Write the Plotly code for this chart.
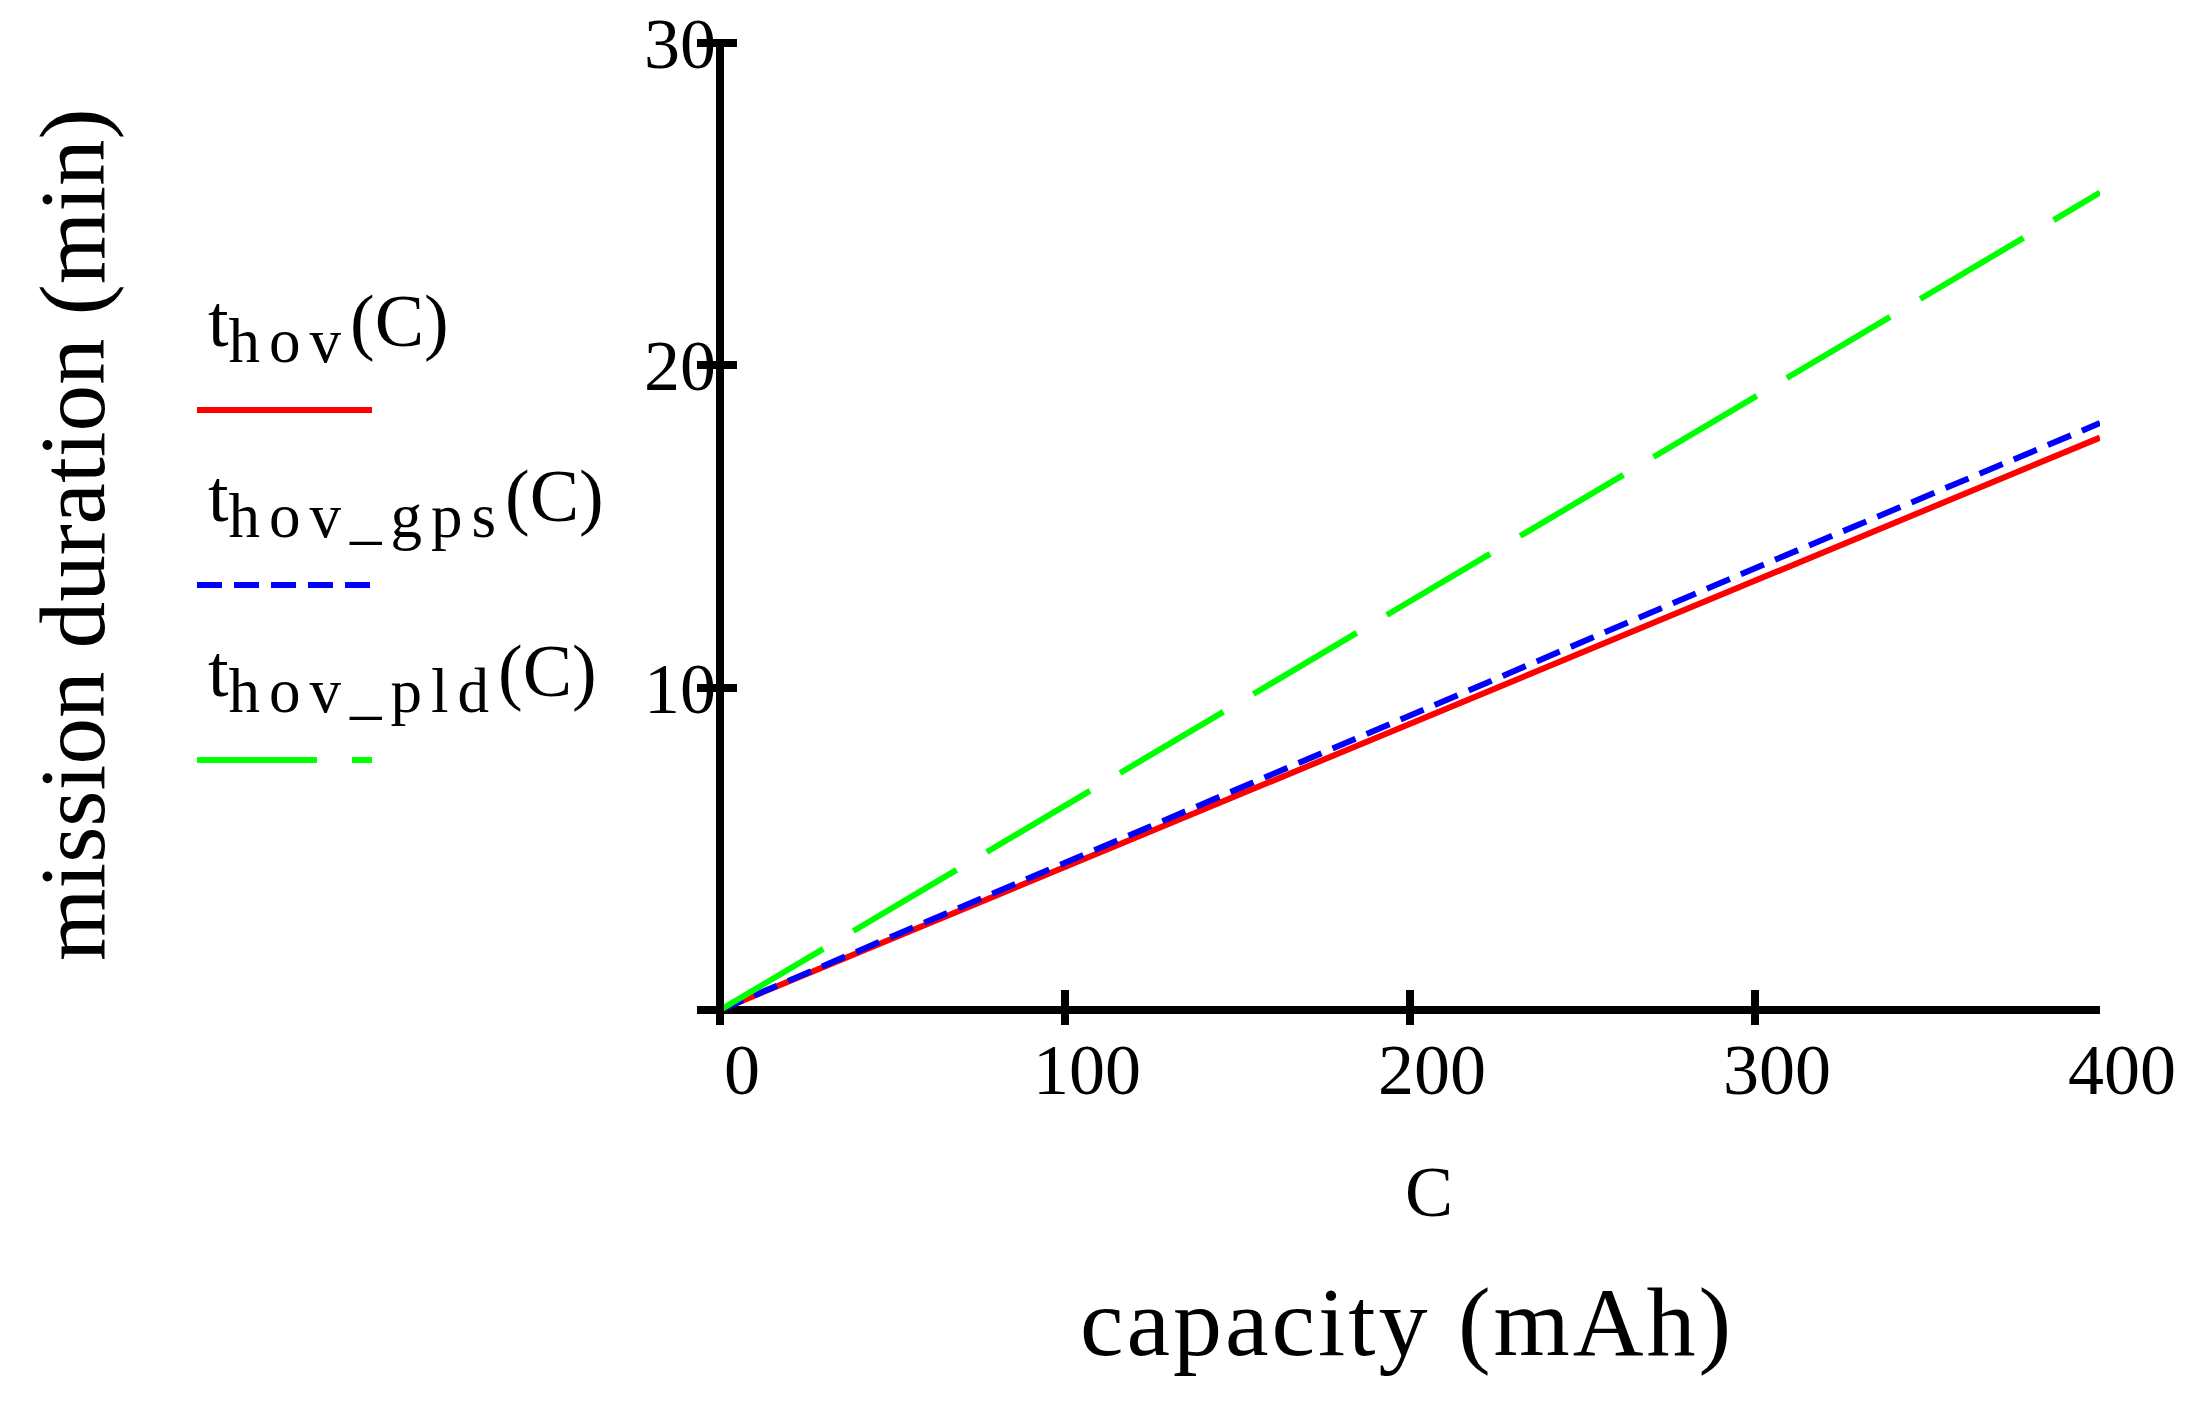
import plotly.graph_objects as go

# values (capacity in mAh, hover time in min)
capacity = [0, 100, 200, 300, 400]
t_hov = [0, 4.44, 8.9, 13.35, 17.75]
t_hov_gps = [0, 4.56, 9.15, 13.7, 18.2]
t_hov_pld = [0, 6.34, 12.7, 19.0, 25.35]

x_ticks = [0, 100, 200, 300, 400]
y_ticks = [10, 20, 30]

FONT = "Liberation Serif"
W, H = 2205, 1405
L, R, T, B = 689, 113, 33, 388
PAGE = 8  # body margin of the html page


def px(x, y):
    # screenshot pixels -> paper coords, for the hand-made legend and titles
    return ((x - PAGE - L) / (W - L - R),
            (H - B - (y - PAGE)) / (H - T - B))


fig = go.Figure()
fig.add_trace(go.Scatter(x=capacity, y=t_hov, mode="lines",
                         line=dict(color="#ff0000", width=6)))
fig.add_trace(go.Scatter(x=capacity, y=t_hov_gps, mode="lines",
                         line=dict(color="#0000ff", width=6, dash="25px,12px")))
fig.add_trace(go.Scatter(x=capacity, y=t_hov_pld, mode="lines",
                         line=dict(color="#00ff00", width=6, dash="120px,35px")))

# legend: label above a line sample, Mathcad style
SUB = "<sub><span style='font-size:63px;letter-spacing:9px'>{}</span></sub>"
legend = [
    ("t" + SUB.format("hov") + "(C)", "#ff0000", "solid", 410),
    ("t" + SUB.format("hov_gps") + "(C)", "#0000ff", "25px,12px", 585),
    ("t" + SUB.format("hov_pld") + "(C)", "#00ff00", "120px,35px", 760),
]
annotations = []
shapes = []
for text, color, dash, ly in legend:
    x0, y0 = px(197, ly)
    x1, _ = px(372, ly)
    shapes.append(dict(type="line", xref="paper", yref="paper", x0=x0, x1=x1,
                       y0=y0, y1=y0, line=dict(color=color, width=6, dash=dash)))
    ax, ay = px(206, ly - 32)
    annotations.append(dict(text=text, xref="paper", yref="paper", x=ax, y=ay,
                            xanchor="left", yanchor="bottom", showarrow=False,
                            font=dict(family=FONT, size=74, color="black")))

cx, cy = px(1429, 1192)
annotations.append(dict(text="C", xref="paper", yref="paper", x=cx, y=cy,
                        xanchor="center", yanchor="middle", showarrow=False,
                        font=dict(family=FONT, size=72, color="black")))
cx, cy = px(1407, 1322)
annotations.append(dict(text="<span style='letter-spacing:3px'>capacity (mAh)</span>",
                        xref="paper", yref="paper", x=cx, y=cy,
                        xanchor="center", yanchor="middle", showarrow=False,
                        font=dict(family=FONT, size=98, color="black")))
cx, cy = px(72, 535)
annotations.append(dict(text="mission duration (min)", xref="paper", yref="paper",
                        x=cx, y=cy, textangle=-90, showarrow=False,
                        xanchor="center", yanchor="middle",
                        font=dict(family=FONT, size=93, color="black")))

fig.update_layout(
    width=W, height=H,
    margin=dict(l=L, r=R, t=T, b=B),
    paper_bgcolor="white", plot_bgcolor="white",
    showlegend=False,
    annotations=annotations,
    shapes=shapes,
)
fig.update_xaxes(
    range=[-6.67, 400], tickvals=x_ticks, ticks="inside", ticklen=35, tickwidth=8,
    tickcolor="black", showgrid=False, showline=False, automargin=False,
    zeroline=True, zerolinecolor="black", zerolinewidth=8,
    tickfont=dict(family=FONT, size=72, color="black"), ticklabelshift=22,
    ticklabelstandoff=-4, ticklabeloverflow="allow",
)
fig.update_yaxes(
    range=[-0.465, 30.05], tickvals=y_ticks, ticks="inside", ticklen=40, tickwidth=8,
    tickcolor="black", showgrid=False, showline=False, automargin=False,
    zeroline=True, zerolinecolor="black", zerolinewidth=8,
    tickfont=dict(family=FONT, size=72, color="black"),
    ticklabelstandoff=-20, ticklabeloverflow="allow",
)

fig.write_html("out.html")
